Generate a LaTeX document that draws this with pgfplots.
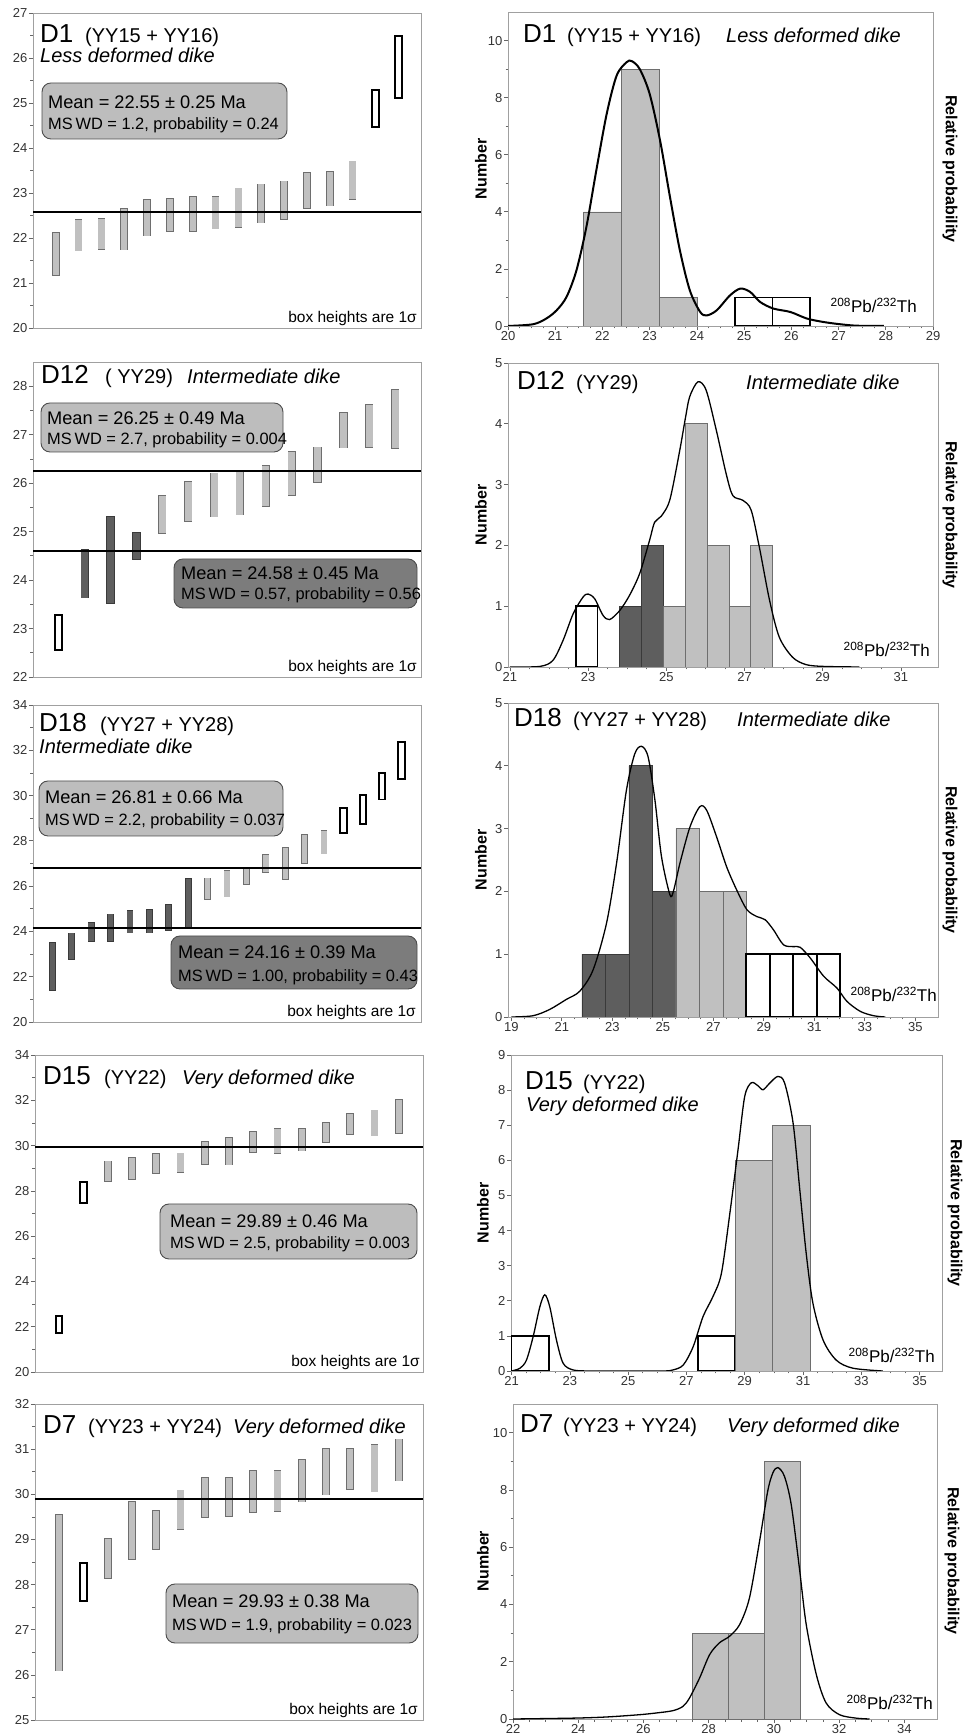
\documentclass[border=0pt]{standalone}
\usepackage{pgfplots}
\pgfplotsset{compat=1.18}
\usepackage{pgfplotstable}
\usepackage{fontspec}
\setmainfont{Liberation Sans}
\newcommand\fs[1]{\fontsize{#1}{#1}\selectfont}
\definecolor{lgray}{HTML}{C0C0C0}
\definecolor{lgrayE}{HTML}{6E6E6E}
\definecolor{dgray}{HTML}{5E5E5E}
\definecolor{dgrayE}{HTML}{3A3A3A}
\definecolor{framegray}{HTML}{A0A0A0}
\definecolor{mboxL}{HTML}{BDBDBD}
\definecolor{mboxD}{HTML}{7C7C7C}
\definecolor{tk}{HTML}{333333}

\pgfplotsset{
 base/.style={scale only axis, axis line style={draw=framegray, line width=0.9pt},
   tick style={draw=black!60, line width=0.7pt}, tick align=outside,
   major tick length=4pt, minor tick length=2.5pt,
   ticklabel style={font=\fs{13}, text=tk, inner sep=1.5pt},
   /pgf/number format/assume math mode=true, tick pos=left},
 leftax/.style={base, width=388pt, xmin=0, xtick=\empty},
 rightax/.style={base, ymin=0, minor x tick num=3},
}

% #1 table, #2 fill, #3 edge, #4 outer width, #5 inner width, #6 edge in data units
\newcommand\boxset[6]{%
 \addplot[draw=none, mark=none, forget plot, error bars/.cd, y dir=both, y explicit, error mark=none,
   error bar style={draw=#3, line width=#4, line cap=butt}]
   table[x=i, y expr=(\thisrow{lo}+\thisrow{hi})/2, y error expr=(\thisrow{hi}-\thisrow{lo})/2+#6] {#1};
 \addplot[draw=none, mark=none, forget plot, error bars/.cd, y dir=both, y explicit, error mark=none,
   error bar style={draw=#2, line width=#5, line cap=butt}]
   table[x=i, y expr=(\thisrow{lo}+\thisrow{hi})/2, y error expr=(\thisrow{hi}-\thisrow{lo})/2] {#1};
}

% ---------- D1 ----------
\pgfplotstableread{
i lo hi
1 21.18 22.11
2 21.72 22.40
3 21.75 22.42
4 21.74 22.64
5 22.05 22.85
6 22.16 22.87
7 22.16 22.92
8 22.21 22.92
9 22.24 23.10
10 22.34 23.19
11 22.42 23.26
12 22.66 23.44
13 22.72 23.47
14 22.86 23.70
}\DAg
\pgfplotstableread{
i lo hi
15 24.49 25.26
16 25.14 26.47
}\DAo
% ---------- D12 ----------
\pgfplotstableread{
i lo hi
1 22.57 23.25
}\DBo
\pgfplotstableread{
i lo hi
2 23.64 24.62
3 23.52 25.30
4 24.43 24.98
}\DBd
\pgfplotstableread{
i lo hi
5 24.97 25.74
6 25.22 26.03
7 25.31 26.20
8 25.35 26.25
9 25.53 26.35
10 25.75 26.64
11 26.02 26.74
12 26.73 27.45
13 26.74 27.61
14 26.72 27.92
}\DBg
% ---------- D18 ----------
\pgfplotstableread{
i lo hi
1 21.40 23.51
2 22.79 23.91
3 23.58 24.38
4 23.58 24.76
5 23.94 24.91
6 23.95 24.94
7 24.05 25.17
8 24.14 26.31
}\DCd
\pgfplotstableread{
i lo hi
9 25.41 26.34
10 25.53 26.66
11 26.09 26.82
12 26.62 27.37
13 26.31 27.69
14 27.00 28.25
15 27.44 28.43
}\DCg
\pgfplotstableread{
i lo hi
16 28.37 29.40
17 28.77 29.98
18 29.87 30.95
19 30.79 32.31
}\DCo
% ---------- D15 ----------
\pgfplotstableread{
i lo hi
1 21.78 22.44
2 27.51 28.34
}\DDo
\pgfplotstableread{
i lo hi
3 28.44 29.30
4 28.52 29.45
5 28.79 29.63
6 28.84 29.66
7 29.19 30.15
8 29.16 30.33
9 29.70 30.62
10 29.67 30.74
11 29.78 30.74
12 30.15 30.99
13 30.49 31.39
14 30.44 31.56
15 30.55 32.03
}\DDg
% ---------- D7 ----------
\pgfplotstableread{
i lo hi
1 26.09 29.55
3 28.14 29.01
4 28.57 29.84
5 28.78 29.63
6 29.23 30.09
7 29.49 30.36
8 29.52 30.36
9 29.61 30.52
10 29.62 30.52
11 29.84 30.77
12 29.99 31.00
13 30.12 31.01
14 30.06 31.10
15 30.30 31.22
}\DEg
\pgfplotstableread{
i lo hi
2 27.65 28.45
}\DEo

\begin{document}
\begin{tikzpicture}
\useasboundingbox (0,0) rectangle (975pt,1735pt);

% ===== Row 1 =====
\begin{axis}[leftax, at={(33pt,1407pt)}, anchor=south west, height=315pt, xmax=17,
  ymin=20, ymax=27, ytick={20,...,27}, minor y tick num=1]
\boxset{\DAg}{lgray}{lgrayE}{7.7pt}{6.3pt}{0.016}
\boxset{\DAo}{white}{black}{9pt}{5pt}{0.044}
\addplot[black, line width=2pt] coordinates {(0,22.58) (17,22.58)};
\end{axis}
\begin{axis}[rightax, at={(508pt,1409pt)}, anchor=south west, width=425pt, height=314pt,
  xmin=20, xmax=29, ymax=11, xtick={20,...,29}, ytick={0,2,...,10}, minor y tick num=1]
\addplot[ybar interval, fill=lgray, draw=lgrayE, line width=0.6pt] coordinates {(21.6,4) (22.4,9) (23.2,1) (24.0,0)};
\addplot[ybar interval, fill=white, draw=black, line width=1.8pt] coordinates {(24.8,1) (25.6,1) (26.4,0)};
\addplot[smooth, black, line width=2pt] coordinates {(20.0,0) (20.53,0.06) (20.81,0.26) (21.03,0.55) (21.24,1.02) (21.45,1.95) (21.66,3.47) (21.87,5.45) (22.09,7.43) (22.30,8.77) (22.51,9.24) (22.62,9.28) (22.79,9.0) (23.0,8.13) (23.22,6.5) (23.43,4.52) (23.64,2.65) (23.85,1.25) (24.07,0.49) (24.21,0.37) (24.42,0.55) (24.7,1.07) (24.92,1.31) (25.13,1.19) (25.34,0.84) (25.62,0.61) (25.98,0.49) (26.33,0.26) (26.68,0.14) (27.04,0.06) (27.39,0.01) (27.96,0)};
\end{axis}

% ===== Row 2 =====
\begin{axis}[leftax, at={(33pt,1058pt)}, anchor=south west, height=315pt, xmax=15,
  ymin=22, ymax=28.5, ytick={22,...,28}, minor y tick num=1]
\boxset{\DBo}{white}{black}{9pt}{5pt}{0.041}
\boxset{\DBd}{dgray}{dgrayE}{8.3pt}{6.9pt}{0.0145}
\boxset{\DBg}{lgray}{lgrayE}{8.3pt}{6.9pt}{0.0145}
\addplot[black, line width=2pt] coordinates {(0,26.26) (15,26.26)};
\addplot[black, line width=2pt] coordinates {(0,24.59) (15,24.59)};
\end{axis}
\begin{axis}[rightax, at={(508pt,1068pt)}, anchor=south west, width=430pt, height=304pt,
  xmin=20.95, xmax=31.95, ymax=5, xtick={21,23,...,31}, ytick={0,...,5}]
\addplot[ybar interval, fill=white, draw=black, line width=1.8pt] coordinates {(22.68,1) (23.24,0)};
\addplot[ybar interval, fill=dgray, draw=dgrayE, line width=0.6pt] coordinates {(23.80,1) (24.36,2) (24.92,0)};
\addplot[ybar interval, fill=lgray, draw=lgrayE, line width=0.6pt] coordinates {(24.92,1) (25.48,4) (26.04,2) (26.60,1) (27.16,2) (27.72,0)};
\addplot[smooth, black, line width=1.3pt] coordinates {(21.0,0) (21.77,0.01) (22.1,0.11) (22.36,0.44) (22.62,0.88) (22.87,1.15) (23.0,1.2) (23.17,1.12) (23.38,0.85) (23.55,0.78) (23.81,0.93) (24.06,1.18) (24.32,1.54) (24.57,2.08) (24.7,2.38) (24.87,2.48) (25.09,2.75) (25.34,3.55) (25.49,4.1) (25.6,4.45) (25.81,4.69) (26.02,4.55) (26.28,3.89) (26.53,3.18) (26.7,2.82) (26.96,2.74) (27.17,2.58) (27.38,1.97) (27.64,1.10) (27.89,0.49) (28.23,0.16) (28.57,0.04) (29.0,0.01) (29.94,0)};
\end{axis}

% ===== Row 3 =====
\begin{axis}[leftax, at={(33pt,713pt)}, anchor=south west, height=317pt, xmax=20,
  ymin=20, ymax=34, ytick={20,22,...,34}, minor y tick num=1]
\boxset{\DCd}{dgray}{dgrayE}{6.8pt}{5.4pt}{0.031}
\boxset{\DCg}{lgray}{lgrayE}{6.8pt}{5.4pt}{0.031}
\boxset{\DCo}{white}{black}{8.5pt}{4.5pt}{0.088}
\addplot[black, line width=2pt] coordinates {(0,26.81) (20,26.81)};
\addplot[black, line width=2pt] coordinates {(0,24.16) (20,24.16)};
\end{axis}
\begin{axis}[rightax, at={(508pt,718pt)}, anchor=south west, width=430pt, height=314pt,
  xmin=18.87, xmax=35.9, ymax=5, xtick={19,21,...,35}, ytick={0,...,5}]
\addplot[ybar interval, fill=dgray, draw=dgrayE, line width=0.6pt] coordinates {(21.80,1) (22.73,1) (23.66,4) (24.59,2) (25.52,0)};
\addplot[ybar interval, fill=lgray, draw=lgrayE, line width=0.6pt] coordinates {(25.52,3) (26.45,2) (27.38,2) (28.31,0)};
\addplot[ybar interval, fill=white, draw=black, line width=1.8pt] coordinates {(28.31,1) (29.24,1) (30.17,1) (31.10,1) (32.03,0)};
\addplot[smooth, black, line width=1.3pt] coordinates {(19.0,0) (19.86,0.02) (20.52,0.12) (21.18,0.28) (21.71,0.41) (22.24,0.75) (22.77,1.49) (23.17,2.45) (23.56,3.61) (23.89,4.19) (24.16,4.31) (24.42,4.14) (24.69,3.45) (24.95,2.55) (25.28,1.95) (25.42,2.0) (25.68,2.45) (26.08,3.03) (26.47,3.35) (26.74,3.29) (27.13,2.87) (27.53,2.39) (27.93,2.02) (28.33,1.71) (28.72,1.60) (29.05,1.55) (29.38,1.39) (29.78,1.15) (30.18,1.12) (30.44,1.11) (30.84,0.94) (31.37,0.65) (31.90,0.46) (32.29,0.25) (32.82,0.09) (33.35,0.02) (33.81,0)};
\end{axis}

% ===== Row 4 =====
\begin{axis}[leftax, at={(35pt,363pt)}, anchor=south west, height=317pt, xmax=16,
  ymin=20, ymax=34, ytick={20,22,...,34}, minor y tick num=1]
\boxset{\DDo}{white}{black}{8.5pt}{4.5pt}{0.088}
\boxset{\DDg}{lgray}{lgrayE}{7.7pt}{6.3pt}{0.031}
\addplot[black, line width=2pt] coordinates {(0,29.95) (16,29.95)};
\end{axis}
\begin{axis}[rightax, at={(511pt,364pt)}, anchor=south west, width=431pt, height=316pt,
  xmin=20.98, xmax=35.77, ymax=9, xtick={21,23,...,35}, ytick={0,...,9}]
\addplot[ybar interval, fill=white, draw=black, line width=1.8pt] coordinates {(21.0,1) (22.28,0)};
\addplot[ybar interval, fill=white, draw=black, line width=1.8pt] coordinates {(27.40,1) (28.68,0)};
\addplot[ybar interval, fill=lgray, draw=lgrayE, line width=0.6pt] coordinates {(28.68,6) (29.96,7) (31.24,0)};
\addplot[smooth, black, line width=1.3pt] coordinates {(21.0,0) (21.29,0.08) (21.51,0.31) (21.74,0.98) (21.97,1.83) (22.14,2.17) (22.31,1.83) (22.54,0.88) (22.77,0.22) (23.11,0.03) (23.69,0) (25.0,0) (26.2,0) (26.54,0.03) (26.89,0.17) (27.23,0.69) (27.57,1.55) (27.91,2.12) (28.2,2.78) (28.49,4.49) (28.77,6.3) (29.0,7.82) (29.23,8.21) (29.46,8.12) (29.63,8.01) (29.86,8.20) (30.14,8.39) (30.37,8.2) (30.66,7.06) (30.89,5.16) (31.11,3.35) (31.34,1.93) (31.69,0.88) (32.14,0.31) (32.71,0.08) (33.74,0)};
\end{axis}

% ===== Row 5 =====
\begin{axis}[leftax, at={(35pt,15pt)}, anchor=south west, height=316pt, xmax=16,
  ymin=25, ymax=32, ytick={25,...,32}, minor y tick num=1]
\boxset{\DEg}{lgray}{lgrayE}{7.7pt}{6.3pt}{0.0155}
\boxset{\DEo}{white}{black}{9pt}{5pt}{0.044}
\addplot[black, line width=2pt] coordinates {(0,29.89) (16,29.89)};
\end{axis}
\begin{axis}[rightax, at={(513pt,16pt)}, anchor=south west, width=424pt, height=315pt,
  xmin=22, xmax=35, ymax=11, xtick={22,24,...,34}, ytick={0,2,...,10}, minor y tick num=1]
\addplot[ybar interval, fill=lgray, draw=lgrayE, line width=0.6pt] coordinates {(27.5,3) (28.6,3) (29.7,9) (30.8,0)};
\addplot[smooth, black, line width=1.3pt] coordinates {(22.0,0) (23.84,0.03) (24.86,0.07) (25.88,0.15) (26.39,0.21) (26.9,0.29) (27.21,0.44) (27.41,0.73) (27.72,1.43) (28.03,2.25) (28.33,2.66) (28.64,2.89) (28.95,3.30) (29.25,4.23) (29.56,6.21) (29.81,7.96) (29.97,8.6) (30.12,8.78) (30.32,8.48) (30.53,7.49) (30.78,5.28) (30.99,3.30) (31.3,1.55) (31.6,0.56) (32.01,0.15) (32.52,0.03) (32.93,0)};
\end{axis}

% ===== Annotations (pixel coordinates, y downwards) =====
\begin{scope}[shift={(0pt,1735pt)}, x=1pt, y=-1pt]
 \tikzset{t/.style={anchor=base west, inner sep=0pt}, te/.style={anchor=base east, inner sep=0pt},
   mb/.style={draw=black!70, line width=0.9pt, rounded corners=9pt}}
 % --- left titles
 \node[t, font=\fs{26}] at (40,43) {D1};
 \node[t, font=\fs{20}] at (85,43) {(YY15 + YY16)};
 \node[t, font=\fs{20}\itshape] at (40,63) {Less deformed dike};
 \node[t, font=\fs{26}] at (41,384) {D12};
 \node[t, font=\fs{20}] at (105,384) {( YY29)};
 \node[t, font=\fs{20}\itshape] at (187,384) {Intermediate dike};
 \node[t, font=\fs{26}] at (39,732) {D18};
 \node[t, font=\fs{20}] at (100,732) {(YY27 + YY28)};
 \node[t, font=\fs{20}\itshape] at (39,754) {Intermediate dike};
 \node[t, font=\fs{26}] at (43,1085) {D15};
 \node[t, font=\fs{20}] at (104,1085) {(YY22)};
 \node[t, font=\fs{20}\itshape] at (182,1085) {Very deformed dike};
 \node[t, font=\fs{26}] at (43,1434) {D7};
 \node[t, font=\fs{20}] at (88,1434) {(YY23 + YY24)};
 \node[t, font=\fs{20}\itshape] at (233,1434) {Very deformed dike};
 % --- right titles
 \node[t, font=\fs{26}] at (523,43) {D1};
 \node[t, font=\fs{20}] at (567,43) {(YY15 + YY16)};
 \node[t, font=\fs{20}\itshape] at (726,43) {Less deformed dike};
 \node[t, font=\fs{26}] at (517,390) {D12};
 \node[t, font=\fs{20}] at (576,390) {(YY29)};
 \node[t, font=\fs{20}\itshape] at (746,390) {Intermediate dike};
 \node[t, font=\fs{26}] at (514,727) {D18};
 \node[t, font=\fs{20}] at (573,727) {(YY27 + YY28)};
 \node[t, font=\fs{20}\itshape] at (737,727) {Intermediate dike};
 \node[t, font=\fs{26}] at (525,1090) {D15};
 \node[t, font=\fs{20}] at (583,1090) {(YY22)};
 \node[t, font=\fs{20}\itshape] at (526,1112) {Very deformed dike};
 \node[t, font=\fs{26}] at (520,1433) {D7};
 \node[t, font=\fs{20}] at (563,1433) {(YY23 + YY24)};
 \node[t, font=\fs{20}\itshape] at (727,1433) {Very deformed dike};
 % --- mean boxes
 \draw[mb, fill=mboxL] (42,83) rectangle (287,139);
 \node[t, font=\fs{18.2}] at (48,109) {Mean = 22.55 ± 0.25 Ma};
 \node[t, font=\fs{16.4}] at (48,130) {MS\,WD = 1.2, probability = 0.24};
 \draw[mb, fill=mboxL] (41,403) rectangle (283,452);
 \node[t, font=\fs{18.2}] at (47,425) {Mean = 26.25 ± 0.49 Ma};
 \node[t, font=\fs{16.4}] at (47,445) {MS\,WD = 2.7, probability = 0.004};
 \draw[mb, fill=mboxD] (174,559) rectangle (417,608);
 \node[t, font=\fs{18.2}] at (181,580) {Mean = 24.58 ± 0.45 Ma};
 \node[t, font=\fs{16.4}] at (181,600) {MS\,WD = 0.57, probability = 0.56};
 \draw[mb, fill=mboxL] (39,781) rectangle (283,836);
 \node[t, font=\fs{18.2}] at (45,804) {Mean = 26.81 ± 0.66 Ma};
 \node[t, font=\fs{16.4}] at (45,826) {MS\,WD = 2.2, probability = 0.037};
 \draw[mb, fill=mboxD] (171,936) rectangle (417,989);
 \node[t, font=\fs{18.2}] at (178,959) {Mean = 24.16 ± 0.39 Ma};
 \node[t, font=\fs{16.4}] at (178,982) {MS\,WD = 1.00, probability = 0.43};
 \draw[mb, fill=mboxL] (160,1204) rectangle (417,1259);
 \node[t, font=\fs{18.2}] at (170,1228) {Mean = 29.89 ± 0.46 Ma};
 \node[t, font=\fs{16.4}] at (170,1249) {MS\,WD = 2.5, probability = 0.003};
 \draw[mb, fill=mboxL] (166,1584) rectangle (418,1643);
 \node[t, font=\fs{18.2}] at (172,1608) {Mean = 29.93 ± 0.38 Ma};
 \node[t, font=\fs{16.4}] at (172,1631) {MS\,WD = 1.9, probability = 0.023};
 % --- box heights
 \node[te, font=\fs{15.5}] at (417,323) {box heights are 1σ};
 \node[te, font=\fs{15.5}] at (417,672) {box heights are 1σ};
 \node[te, font=\fs{15.5}] at (416,1017) {box heights are 1σ};
 \node[te, font=\fs{15.5}] at (420,1367) {box heights are 1σ};
 \node[te, font=\fs{15.5}] at (418,1715) {box heights are 1σ};
 % --- Pb/Th
 \node[te, font=\fs{17}] at (917,313) {\textsuperscript{208}Pb/\textsuperscript{232}Th};
 \node[te, font=\fs{17}] at (930,657) {\textsuperscript{208}Pb/\textsuperscript{232}Th};
 \node[te, font=\fs{17}] at (937,1002) {\textsuperscript{208}Pb/\textsuperscript{232}Th};
 \node[te, font=\fs{17}] at (935,1363) {\textsuperscript{208}Pb/\textsuperscript{232}Th};
 \node[te, font=\fs{17}] at (933,1710) {\textsuperscript{208}Pb/\textsuperscript{232}Th};
 % --- axis labels
 \foreach \yy/\xn/\xr in {169/481/950, 515/481/950, 860/481/950, 1213/483/955, 1561/483/952}{
   \node[rotate=90, font=\bfseries\fs{16}, inner sep=0pt] at (\xn,\yy) {Number};
   \node[rotate=-90, font=\bfseries\fs{16}, inner sep=0pt] at (\xr,\yy) {Relative probability};
 }
\end{scope}
\end{tikzpicture}
\end{document}
